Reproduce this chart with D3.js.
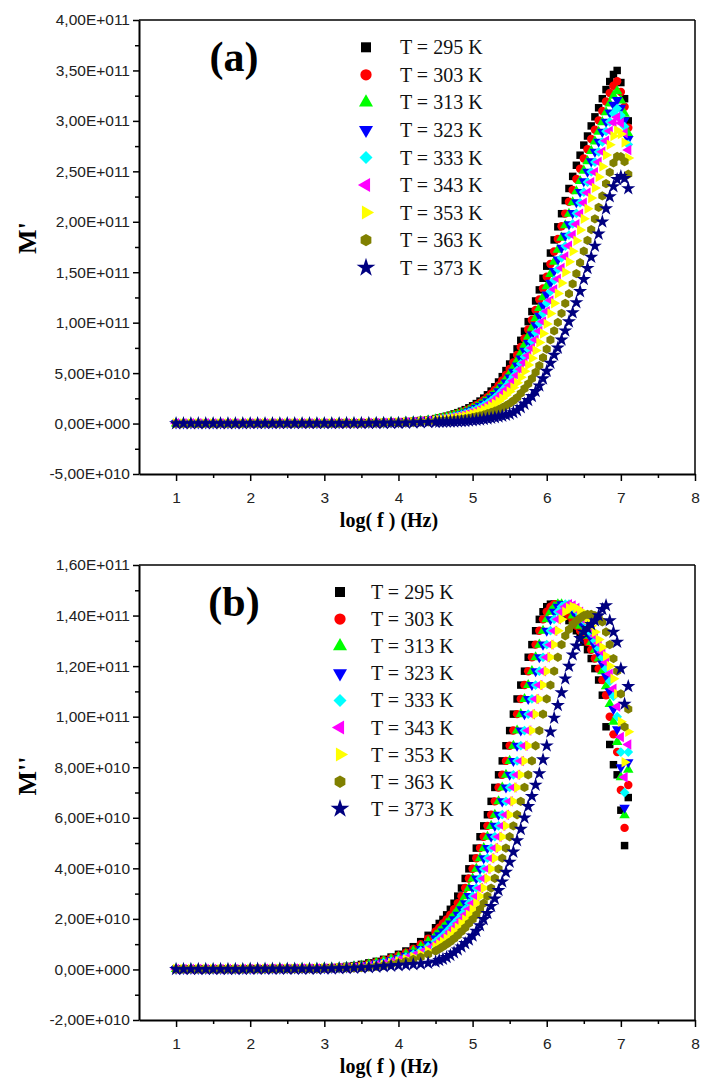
<!DOCTYPE html>
<html>
<head>
<meta charset="utf-8">
<script src="https://cdnjs.cloudflare.com/ajax/libs/d3/7.8.5/d3.min.js"></script>
<style>
  body { margin: 0; background: #fff; }
  svg { display: block; }
</style>
</head>
<body>
<div id="chart"></div>
<script>
"use strict";

// log(f) grid, shared by every series
const logF = [
  1.0, 1.1, 1.2, 1.3, 1.4, 1.5, 1.6, 1.7, 1.8, 1.9,
  2.0, 2.1, 2.2, 2.3, 2.4, 2.5, 2.6, 2.7, 2.8, 2.9,
  3.0, 3.1, 3.2, 3.3, 3.4, 3.5, 3.6, 3.7, 3.8, 3.9,
  4.0, 4.1, 4.2, 4.3, 4.4, 4.5,
  4.55, 4.6, 4.65, 4.7, 4.75, 4.8, 4.85, 4.9, 4.95, 5.0,
  5.05, 5.1, 5.15, 5.2, 5.25, 5.3, 5.35, 5.4, 5.45, 5.5,
  5.55, 5.6, 5.65, 5.7, 5.75, 5.8, 5.85, 5.9, 5.95, 6.0,
  6.05, 6.1, 6.15, 6.2, 6.25, 6.3, 6.35, 6.4, 6.45, 6.5,
  6.55, 6.6, 6.65, 6.7, 6.75, 6.8, 6.85, 6.9, 6.95, 7.0,
  7.05, 7.1,
];

const temps = [295, 303, 313, 323, 333, 343, 353, 363, 373];
const colors = ["#000000", "#ff0000", "#00ff00", "#0000ff", "#00ffff", "#ff00ff", "#ffff00", "#808000", "#000080"];
const shapes = ["square", "circle", "triUp", "triDown", "diamond", "triLeft", "triRight", "hexagon", "star"];

// M' values, units of 1E10
const mp295 = [
  0.02, 0.02, 0.02, 0.02, 0.02, 0.02, 0.02, 0.02, 0.02, 0.02,
  0.03, 0.03, 0.03, 0.03, 0.03, 0.03, 0.03, 0.03, 0.03, 0.03,
  0.04, 0.04, 0.05, 0.05, 0.06, 0.07, 0.08, 0.09, 0.11, 0.13,
  0.15, 0.19, 0.24, 0.30, 0.38, 0.49,
  0.56, 0.64, 0.73, 0.83, 0.95, 1.08, 1.22, 1.38, 1.56, 1.76, 1.98, 2.23, 2.52, 2.85, 3.22, 3.64, 4.12, 4.65,
  5.25, 5.9, 6.6, 7.4, 8.25, 9.15, 10.1, 11.1, 12.15, 13.25, 14.4, 15.6, 16.9, 18.2, 19.5, 20.8, 22.1, 23.3,
  24.5, 25.6, 26.6, 27.6, 28.5, 29.5, 30.4, 31.3, 32.2, 33.1, 33.9, 34.6, 35.0, 33.8, 32.2, 30.0,
];
const mp303 = [
  0.02, 0.02, 0.02, 0.02, 0.02, 0.02, 0.02, 0.02, 0.02, 0.02,
  0.03, 0.03, 0.03, 0.03, 0.03, 0.03, 0.03, 0.03, 0.03, 0.03,
  0.04, 0.04, 0.05, 0.05, 0.06, 0.07, 0.08, 0.09, 0.1, 0.12,
  0.14, 0.18, 0.22, 0.28, 0.35, 0.46,
  0.52, 0.59, 0.67, 0.77, 0.87, 0.99, 1.12, 1.27, 1.43, 1.61, 1.82, 2.05, 2.31, 2.61, 2.95, 3.34, 3.78, 4.26,
  4.81, 5.41, 6.05, 6.79, 7.59, 8.43, 9.32, 10.26, 11.26, 12.3, 13.4, 14.56, 15.81, 17.06, 18.3, 19.55, 20.81, 21.98,
  23.15, 24.24, 25.25, 26.27, 27.19, 28.2, 29.12, 30.05, 30.98, 31.92, 32.76, 33.49, 33.92, 32.87, 31.41, 29.33,
];
const mp313 = [
  0.02, 0.02, 0.02, 0.02, 0.02, 0.02, 0.02, 0.02, 0.02, 0.02,
  0.03, 0.03, 0.03, 0.03, 0.03, 0.03, 0.03, 0.03, 0.03, 0.03,
  0.04, 0.04, 0.04, 0.05, 0.06, 0.06, 0.07, 0.08, 0.1, 0.12,
  0.13, 0.17, 0.21, 0.26, 0.33, 0.42,
  0.48, 0.55, 0.62, 0.71, 0.81, 0.91, 1.03, 1.16, 1.32, 1.48, 1.67, 1.88, 2.12, 2.4, 2.71, 3.06, 3.46, 3.91,
  4.41, 4.96, 5.56, 6.24, 6.99, 7.78, 8.62, 9.5, 10.45, 11.45, 12.51, 13.62, 14.83, 16.03, 17.22, 18.43, 19.65, 20.79,
  21.94, 23.02, 24.04, 25.07, 26.01, 27.03, 27.97, 28.93, 29.88, 30.86, 31.73, 32.49, 32.95, 32.03, 30.7, 28.73,
];
const mp323 = [
  0.02, 0.02, 0.02, 0.02, 0.02, 0.02, 0.02, 0.02, 0.02, 0.02,
  0.02, 0.02, 0.02, 0.02, 0.02, 0.03, 0.03, 0.03, 0.03, 0.03,
  0.03, 0.04, 0.04, 0.05, 0.05, 0.06, 0.07, 0.08, 0.09, 0.11,
  0.12, 0.15, 0.2, 0.25, 0.31, 0.4,
  0.45, 0.51, 0.58, 0.65, 0.75, 0.84, 0.95, 1.07, 1.21, 1.37, 1.54, 1.73, 1.96, 2.21, 2.5, 2.82, 3.19, 3.6,
  4.06, 4.56, 5.12, 5.75, 6.45, 7.21, 7.99, 8.83, 9.73, 10.69, 11.71, 12.79, 13.96, 15.12, 16.26, 17.43, 18.62, 19.74,
  20.86, 21.93, 22.96, 24.01, 24.96, 25.99, 26.94, 27.93, 28.91, 29.91, 30.82, 31.6, 32.08, 31.29, 30.07, 28.19,
];
const mp333 = [
  0.02, 0.02, 0.02, 0.02, 0.02, 0.02, 0.02, 0.02, 0.02, 0.02,
  0.02, 0.02, 0.02, 0.02, 0.02, 0.03, 0.03, 0.03, 0.03, 0.03,
  0.03, 0.03, 0.04, 0.04, 0.05, 0.05, 0.06, 0.07, 0.08, 0.1,
  0.12, 0.14, 0.18, 0.23, 0.29, 0.37,
  0.42, 0.47, 0.53, 0.6, 0.68, 0.77, 0.87, 0.98, 1.11, 1.25, 1.41, 1.58, 1.79, 2.02, 2.28, 2.58, 2.91, 3.29,
  3.71, 4.17, 4.68, 5.27, 5.92, 6.63, 7.37, 8.16, 9.02, 9.93, 10.92, 11.96, 13.09, 14.21, 15.3, 16.43, 17.59, 18.68,
  19.78, 20.84, 21.88, 22.95, 23.92, 24.95, 25.92, 26.93, 27.93, 28.97, 29.91, 30.72, 31.22, 30.55, 29.44, 27.66,
];
const mp343 = [
  0.02, 0.02, 0.02, 0.02, 0.02, 0.02, 0.02, 0.02, 0.02, 0.02,
  0.02, 0.02, 0.02, 0.02, 0.02, 0.02, 0.02, 0.02, 0.02, 0.02,
  0.03, 0.03, 0.03, 0.04, 0.04, 0.05, 0.05, 0.06, 0.07, 0.09,
  0.11, 0.13, 0.17, 0.21, 0.27, 0.34,
  0.38, 0.43, 0.49, 0.55, 0.62, 0.7, 0.79, 0.89, 1.01, 1.13, 1.28, 1.43, 1.62, 1.83, 2.07, 2.33, 2.64, 2.97,
  3.36, 3.77, 4.24, 4.78, 5.39, 6.05, 6.75, 7.49, 8.3, 9.17, 10.12, 11.13, 12.21, 13.3, 14.34, 15.43, 16.55, 17.62,
  18.7, 19.75, 20.8, 21.88, 22.87, 23.91, 24.9, 25.93, 26.95, 28.03, 29.0, 29.83, 30.36, 29.8, 28.8, 27.12,
];
const mp353 = [
  0.01, 0.01, 0.01, 0.01, 0.01, 0.01, 0.01, 0.01, 0.01, 0.01,
  0.02, 0.02, 0.02, 0.02, 0.02, 0.02, 0.02, 0.02, 0.02, 0.02,
  0.03, 0.03, 0.03, 0.03, 0.04, 0.04, 0.05, 0.05, 0.06, 0.08,
  0.1, 0.12, 0.15, 0.19, 0.24, 0.3,
  0.33, 0.38, 0.42, 0.47, 0.53, 0.6, 0.67, 0.75, 0.85, 0.96, 1.08, 1.21, 1.37, 1.55, 1.75, 1.97, 2.22, 2.51,
  2.83, 3.18, 3.58, 4.05, 4.59, 5.19, 5.81, 6.48, 7.23, 8.03, 8.93, 9.88, 10.9, 11.93, 12.9, 13.93, 15.0, 16.04,
  17.08, 18.12, 19.18, 20.29, 21.3, 22.35, 23.36, 24.43, 25.49, 26.61, 27.63, 28.5, 29.06, 28.69, 27.86, 26.32,
];
const mp363 = [
  0.01, 0.01, 0.01, 0.01, 0.01, 0.01, 0.01, 0.01, 0.01, 0.01,
  0.02, 0.02, 0.02, 0.02, 0.02, 0.02, 0.02, 0.02, 0.02, 0.02,
  0.02, 0.02, 0.03, 0.03, 0.03, 0.03, 0.04, 0.04, 0.05, 0.06,
  0.07, 0.09, 0.11, 0.14, 0.17, 0.21,
  0.24, 0.26, 0.29, 0.32, 0.35, 0.39, 0.43, 0.48, 0.54, 0.61, 0.68, 0.77, 0.87, 0.98, 1.1, 1.24, 1.39, 1.57,
  1.77, 1.99, 2.26, 2.58, 3.0, 3.46, 3.94, 4.46, 5.08, 5.75, 6.54, 7.38, 8.29, 9.19, 10.02, 10.93, 11.91, 12.87,
  13.84, 14.86, 15.94, 17.09, 18.15, 19.23, 20.29, 21.43, 22.56, 23.78, 24.89, 25.83, 26.47, 26.45, 25.96, 24.71,
];
const mp373 = [
  0.01, 0.01, 0.01, 0.01, 0.01, 0.01, 0.01, 0.01, 0.01, 0.01,
  0.02, 0.02, 0.02, 0.02, 0.02, 0.02, 0.02, 0.02, 0.02, 0.02,
  0.02, 0.02, 0.02, 0.03, 0.03, 0.03, 0.03, 0.04, 0.04, 0.04,
  0.05, 0.06, 0.08, 0.1, 0.12, 0.14,
  0.15, 0.16, 0.17, 0.18, 0.19, 0.2, 0.22, 0.24, 0.27, 0.3, 0.34, 0.38, 0.43, 0.48, 0.54, 0.6, 0.67, 0.75,
  0.85, 0.95, 1.1, 1.3, 1.6, 1.95, 2.3, 2.7, 3.2, 3.75, 4.45, 5.2, 6.0, 6.8, 7.5, 8.3, 9.2, 10.1,
  11.0, 12.0, 13.1, 14.3, 15.4, 16.5, 17.6, 18.8, 20.0, 21.3, 22.5, 23.5, 24.2, 24.5, 24.3, 23.3,
];

// M'' values, units of 1E10
const mpp295 = [
  0.02, 0.02, 0.02, 0.02, 0.02, 0.02, 0.02, 0.02, 0.02, 0.02,
  0.03, 0.03, 0.03, 0.04, 0.04, 0.04, 0.05, 0.05, 0.05, 0.06,
  0.06, 0.07, 0.09, 0.12, 0.15, 0.2, 0.26, 0.32, 0.4, 0.49,
  0.6, 0.73, 0.9, 1.1, 1.35, 1.65,
  1.82, 1.98, 2.16, 2.38, 2.62, 2.9, 3.22, 3.6, 3.98, 4.4, 4.8, 5.25, 5.68, 6.12, 6.65, 7.2, 7.7, 8.25,
  8.85, 9.45, 10.1, 10.7, 11.25, 11.8, 12.35, 12.85, 13.4, 13.85, 14.15, 14.35, 14.45, 14.45, 14.35, 14.2, 14.0, 13.8,
  13.6, 13.4, 13.2, 12.95, 12.65, 12.3, 11.9, 11.45, 10.85, 9.6, 8.9, 8.1, 7.7, 6.3, 4.9, 6.8,
];
const mpp303 = [
  0.02, 0.02, 0.02, 0.02, 0.02, 0.02, 0.02, 0.02, 0.02, 0.02,
  0.03, 0.03, 0.03, 0.03, 0.04, 0.04, 0.04, 0.05, 0.05, 0.05,
  0.06, 0.06, 0.08, 0.1, 0.13, 0.17, 0.23, 0.29, 0.36, 0.44,
  0.54, 0.66, 0.81, 1.0, 1.22, 1.5,
  1.65, 1.82, 1.98, 2.16, 2.38, 2.62, 2.9, 3.22, 3.6, 3.98, 4.4, 4.8, 5.25, 5.68, 6.12, 6.65, 7.2, 7.7,
  8.25, 8.85, 9.45, 10.1, 10.7, 11.25, 11.8, 12.35, 12.85, 13.4, 13.85, 14.15, 14.35, 14.45, 14.45, 14.35, 14.2, 14.0,
  13.8, 13.6, 13.4, 13.2, 12.95, 12.65, 12.3, 11.9, 11.45, 10.85, 10.0, 9.3, 8.6, 7.1, 5.6, 7.3,
];
const mpp313 = [
  0.02, 0.02, 0.02, 0.02, 0.02, 0.02, 0.02, 0.02, 0.02, 0.02,
  0.03, 0.03, 0.03, 0.03, 0.04, 0.04, 0.04, 0.05, 0.05, 0.05,
  0.06, 0.06, 0.07, 0.09, 0.12, 0.15, 0.2, 0.26, 0.32, 0.4,
  0.49, 0.6, 0.73, 0.9, 1.1, 1.35,
  1.5, 1.65, 1.82, 1.98, 2.16, 2.38, 2.62, 2.9, 3.22, 3.6, 3.98, 4.4, 4.8, 5.25, 5.68, 6.12, 6.65, 7.2,
  7.7, 8.25, 8.85, 9.45, 10.1, 10.7, 11.25, 11.8, 12.35, 12.85, 13.4, 13.85, 14.15, 14.35, 14.45, 14.45, 14.35, 14.2,
  14.0, 13.8, 13.6, 13.4, 13.2, 12.95, 12.65, 12.3, 11.8, 11.2, 10.5, 9.8, 9.0, 7.6, 6.1, 7.9,
];
const mpp323 = [
  0.02, 0.02, 0.02, 0.02, 0.02, 0.02, 0.02, 0.02, 0.02, 0.02,
  0.02, 0.03, 0.03, 0.03, 0.03, 0.04, 0.04, 0.04, 0.05, 0.05,
  0.05, 0.06, 0.07, 0.08, 0.1, 0.13, 0.17, 0.23, 0.29, 0.36,
  0.44, 0.54, 0.66, 0.81, 1.0, 1.22,
  1.35, 1.5, 1.65, 1.82, 1.98, 2.16, 2.38, 2.62, 2.9, 3.22, 3.6, 3.98, 4.4, 4.8, 5.25, 5.68, 6.12, 6.65,
  7.2, 7.7, 8.25, 8.85, 9.45, 10.1, 10.7, 11.25, 11.8, 12.35, 12.85, 13.4, 13.85, 14.15, 14.35, 14.45, 14.45, 14.35,
  14.2, 14.0, 13.8, 13.6, 13.35, 13.1, 12.8, 12.5, 12.1, 11.6, 11.0, 10.3, 9.5, 8.0, 6.4, 8.2,
];
const mpp333 = [
  0.02, 0.02, 0.02, 0.02, 0.02, 0.02, 0.02, 0.02, 0.02, 0.02,
  0.02, 0.02, 0.03, 0.03, 0.03, 0.03, 0.04, 0.04, 0.04, 0.05,
  0.05, 0.06, 0.06, 0.07, 0.09, 0.12, 0.15, 0.2, 0.26, 0.32,
  0.4, 0.49, 0.6, 0.73, 0.9, 1.1,
  1.22, 1.35, 1.5, 1.65, 1.82, 1.98, 2.16, 2.38, 2.62, 2.9, 3.22, 3.6, 3.98, 4.4, 4.8, 5.25, 5.68, 6.12,
  6.65, 7.2, 7.7, 8.25, 8.85, 9.45, 10.1, 10.7, 11.25, 11.8, 12.35, 12.85, 13.4, 13.85, 14.15, 14.35, 14.45, 14.45,
  14.35, 14.2, 14.0, 13.8, 13.55, 13.3, 13.0, 12.7, 12.35, 11.9, 11.4, 10.8, 10.0, 8.6, 7.0, 8.6,
];
const mpp343 = [
  0.02, 0.02, 0.02, 0.02, 0.02, 0.02, 0.02, 0.02, 0.02, 0.02,
  0.02, 0.02, 0.03, 0.03, 0.03, 0.03, 0.04, 0.04, 0.04, 0.04,
  0.05, 0.05, 0.06, 0.06, 0.08, 0.1, 0.13, 0.17, 0.23, 0.29,
  0.36, 0.44, 0.54, 0.66, 0.81, 1.0,
  1.1, 1.22, 1.35, 1.5, 1.65, 1.82, 1.98, 2.16, 2.38, 2.62, 2.9, 3.22, 3.6, 3.98, 4.4, 4.8, 5.25, 5.68,
  6.12, 6.65, 7.2, 7.7, 8.25, 8.85, 9.45, 10.1, 10.7, 11.25, 11.8, 12.35, 12.85, 13.4, 13.85, 14.15, 14.35, 14.45,
  14.4, 14.3, 14.15, 13.95, 13.75, 13.5, 13.2, 12.9, 12.55, 12.15, 11.7, 11.1, 10.4, 9.2, 7.6, 8.9,
];
const mpp353 = [
  0.02, 0.02, 0.02, 0.02, 0.02, 0.02, 0.02, 0.02, 0.02, 0.02,
  0.02, 0.02, 0.02, 0.03, 0.03, 0.03, 0.03, 0.04, 0.04, 0.04,
  0.05, 0.05, 0.06, 0.06, 0.07, 0.09, 0.12, 0.15, 0.2, 0.26,
  0.32, 0.4, 0.49, 0.6, 0.73, 0.9,
  1.0, 1.1, 1.22, 1.35, 1.5, 1.65, 1.82, 1.98, 2.16, 2.38, 2.62, 2.9, 3.22, 3.6, 3.98, 4.4, 4.8, 5.25,
  5.68, 6.12, 6.65, 7.2, 7.7, 8.25, 8.85, 9.45, 10.1, 10.7, 11.25, 11.8, 12.35, 12.85, 13.4, 13.85, 14.15, 14.3,
  14.35, 14.3, 14.2, 14.05, 13.85, 13.6, 13.35, 13.05, 12.75, 12.4, 12.0, 11.5, 10.9, 9.8, 8.2, 9.4,
];
const mpp363 = [
  0.01, 0.01, 0.01, 0.01, 0.01, 0.01, 0.01, 0.01, 0.01, 0.01,
  0.02, 0.02, 0.02, 0.02, 0.02, 0.02, 0.02, 0.02, 0.02, 0.02,
  0.04, 0.05, 0.05, 0.06, 0.06, 0.07, 0.09, 0.12, 0.15, 0.2,
  0.26, 0.32, 0.4, 0.49, 0.6, 0.73,
  0.81, 0.9, 1.0, 1.1, 1.22, 1.35, 1.5, 1.65, 1.82, 1.98, 2.16, 2.38, 2.62, 2.9, 3.22, 3.6, 3.98, 4.4,
  4.8, 5.25, 5.68, 6.12, 6.65, 7.2, 7.7, 8.25, 8.85, 9.45, 10.1, 10.7, 11.25, 11.8, 12.35, 12.85, 13.2, 13.45,
  13.65, 13.8, 13.9, 14.0, 14.05, 14.05, 14.0, 13.9, 13.75, 13.35, 12.85, 12.3, 11.8, 10.9, 9.6, 10.3,
];
const mpp373 = [
  0.01, 0.01, 0.01, 0.01, 0.01, 0.01, 0.01, 0.01, 0.01, 0.01,
  0.02, 0.02, 0.02, 0.02, 0.02, 0.02, 0.02, 0.02, 0.02, 0.02,
  0.03, 0.03, 0.04, 0.05, 0.06, 0.07, 0.08, 0.1, 0.12, 0.14,
  0.16, 0.18, 0.2, 0.22, 0.25, 0.3,
  0.36, 0.41, 0.48, 0.56, 0.66, 0.78, 0.9, 1.03, 1.17, 1.33, 1.52, 1.74, 1.98, 2.22, 2.5, 2.8, 3.13, 3.47,
  3.85, 4.25, 4.65, 5.1, 5.55, 6.0, 6.45, 6.85, 7.3, 7.75, 8.3, 8.85, 9.4, 9.95, 10.45, 10.95, 11.5, 12.0,
  12.45, 12.8, 13.1, 13.35, 13.5, 13.65, 13.8, 14.0, 14.25, 14.4, 13.8, 13.35, 12.95, 11.9, 10.5, 11.2,
];

const xTicks = [1, 2, 3, 4, 5, 6, 7, 8];
const xMinor = [1.5, 2.5, 3.5, 4.5, 5.5, 6.5, 7.5];
const yTicksA = [-5e10, 0, 5e10, 1e11, 1.5e11, 2e11, 2.5e11, 3e11, 3.5e11, 4e11];
const yMinorA = [-2.5e10, 2.5e10, 7.5e10, 1.25e11, 1.75e11, 2.25e11, 2.75e11, 3.25e11, 3.75e11];
const yTicksB = [-2e10, 0, 2e10, 4e10, 6e10, 8e10, 1e11, 1.2e11, 1.4e11, 1.6e11];
const yMinorB = [-1e10, 1e10, 3e10, 5e10, 7e10, 9e10, 1.1e11, 1.3e11, 1.5e11];

const W = 703;
const H = 1079;
const sansFont = "'Liberation Sans', Arial, sans-serif";
const serifFont = "'Liberation Serif', 'Times New Roman', serif";

const svg = d3.select("#chart").append("svg").attr("width", W).attr("height", H);

const x = d3.scaleLinear().domain([0.5, 8]).range([139, 695]);

// "4,00E+011" style labels
const fmtE = function (v) {
  if (v === 0) return "0,00E+000";
  const e = Math.floor(Math.log10(Math.abs(v)) + 1e-9);
  const m = (v / Math.pow(10, e)).toFixed(2).replace(".", ",");
  return m + "E" + (e >= 0 ? "+" : "-") + String(Math.abs(e)).padStart(3, "0");
};

const symbolHexagon = {
  draw(context, size) {
    const r = Math.sqrt((2 * size) / (3 * Math.sqrt(3)));
    for (let k = 0; k < 6; k++) {
      const a = Math.PI / 2 + (k * Math.PI) / 3;
      const px = r * Math.cos(a);
      const py = r * Math.sin(a);
      if (k === 0) context.moveTo(px, py);
      else context.lineTo(px, py);
    }
    context.closePath();
  },
};

const shapeDef = {
  square: { type: d3.symbolSquare, rot: 0, k: 1.0 },
  circle: { type: d3.symbolCircle, rot: 0, k: 1.0 },
  triUp: { type: d3.symbolTriangle, rot: 0, k: 0.85 },
  triDown: { type: d3.symbolTriangle, rot: 180, k: 0.85 },
  diamond: { type: d3.symbolSquare, rot: 45, k: 0.85 },
  triLeft: { type: d3.symbolTriangle, rot: -90, k: 0.85 },
  triRight: { type: d3.symbolTriangle, rot: 90, k: 0.85 },
  hexagon: { type: symbolHexagon, rot: 0, k: 1.0 },
  star: { type: d3.symbolStar, rot: 0, k: 1.1 },
};

const symPath = function (shape, size) {
  const s = shapeDef[shape];
  return d3.symbol().type(s.type).size(size * s.k)();
};

const drawPanel = function (p) {
  const g = svg.append("g");
  const y = d3.scaleLinear().domain(p.yDomain).range([p.bottom, p.top]);

  // frame top / right
  g.append("line")
    .attr("x1", x(0.5)).attr("x2", x(8))
    .attr("y1", p.top).attr("y2", p.top)
    .attr("stroke", "#000").attr("stroke-width", 1.5);
  g.append("line")
    .attr("x1", x(8)).attr("x2", x(8))
    .attr("y1", p.top).attr("y2", p.bottom)
    .attr("stroke", "#000").attr("stroke-width", 1.5);

  // x axis
  const gx = g.append("g").attr("transform", `translate(0,${p.bottom})`);
  gx.call(d3.axisBottom(x).tickValues(xTicks).tickSize(7).tickSizeOuter(0).tickPadding(11).tickFormat(d3.format("d")));
  gx.append("g").call(d3.axisBottom(x).tickValues(xMinor).tickSize(4).tickSizeOuter(0).tickFormat(""))
    .select(".domain").remove();

  // y axis
  const gy = g.append("g").attr("transform", `translate(${x(0.5)},0)`);
  gy.call(d3.axisLeft(y).tickValues(p.yTicks).tickSize(6).tickSizeOuter(0).tickPadding(3).tickFormat(fmtE));
  gy.append("g").call(d3.axisLeft(y).tickValues(p.yMinor).tickSize(4).tickSizeOuter(0).tickFormat(""))
    .select(".domain").remove();

  g.selectAll(".domain").attr("stroke", "#000").attr("stroke-width", 2);
  g.selectAll(".tick line").attr("stroke", "#000").attr("stroke-width", 1.5);
  g.selectAll(".tick text")
    .attr("font-family", sansFont)
    .attr("font-size", "15.5px")
    .attr("fill", "#222");

  // axis titles
  g.append("text")
    .attr("x", 389).attr("y", p.bottom + 53)
    .attr("text-anchor", "middle")
    .attr("font-family", serifFont).attr("font-weight", "bold").attr("font-size", "20px")
    .text("log( f ) (Hz)");
  g.append("text")
    .attr("transform", `translate(36,${p.yTitleY}) rotate(-90)`)
    .attr("text-anchor", "middle")
    .attr("font-family", serifFont).attr("font-weight", "bold").attr("font-size", "26px")
    .text(p.yTitle);

  // panel label
  g.append("text")
    .attr("x", 234).attr("y", p.top + 51)
    .attr("text-anchor", "middle")
    .attr("font-family", serifFont).attr("font-weight", "bold").attr("font-size", "42px")
    .text(p.label);

  // data points, coolest first so the hotter series sit on top
  p.series.forEach((vals, si) => {
    const pts = logF.map((l, i) => [l, vals[i]]).filter((d) => d[1] != null);
    const sd = shapeDef[shapes[si]];
    g.append("g")
      .selectAll("path")
      .data(pts)
      .enter()
      .append("path")
      .attr("d", symPath(shapes[si], 56))
      .attr("transform", (d) => `translate(${x(d[0])},${y(d[1] * 1e10)}) rotate(${sd.rot})`)
      .attr("fill", colors[si]);
  });

  // legend
  const lg = g.append("g");
  temps.forEach((t, i) => {
    const ly = p.legY + i * p.legStep;
    lg.append("path")
      .attr("d", symPath(shapes[i], 100))
      .attr("transform", `translate(${p.legX},${ly}) rotate(${shapeDef[shapes[i]].rot})`)
      .attr("fill", colors[i]);
    lg.append("text")
      .attr("x", p.legX + p.legGap).attr("y", ly + 7)
      .attr("font-family", serifFont).attr("font-size", "20px")
      .attr("fill", "#111")
      .text(`T = ${t} K`);
  });
};

drawPanel({
  top: 20, bottom: 474,
  yDomain: [-5e10, 4e11],
  yTicks: yTicksA, yMinor: yMinorA,
  yTitle: "M'", yTitleY: 238,
  label: "(a)",
  series: [mp295, mp303, mp313, mp323, mp333, mp343, mp353, mp363, mp373],
  legX: 366, legY: 47.3, legStep: 27.55, legGap: 34,
});

drawPanel({
  top: 565, bottom: 1020,
  yDomain: [-2e10, 1.6e11],
  yTicks: yTicksB, yMinor: yMinorB,
  yTitle: "M''", yTitleY: 776,
  label: "(b)",
  series: [mpp295, mpp303, mpp313, mpp323, mpp333, mpp343, mpp353, mpp363, mpp373],
  legX: 340, legY: 592, legStep: 27.1, legGap: 31,
});
</script>
</body>
</html>
